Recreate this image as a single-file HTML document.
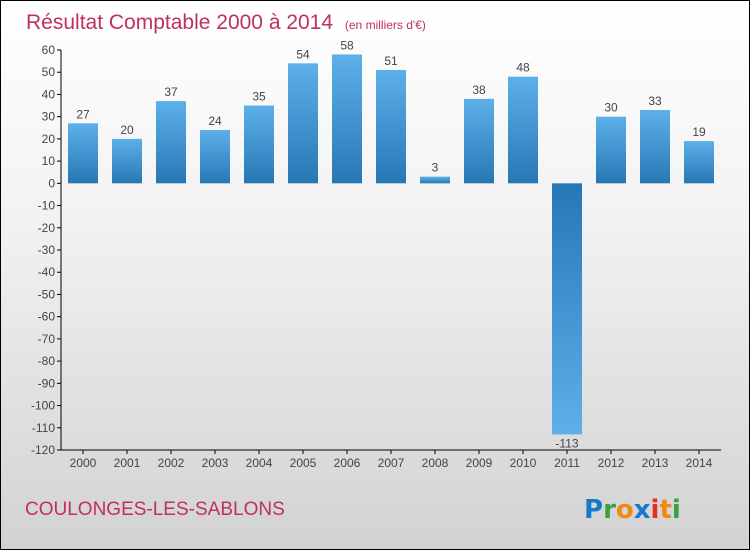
<!DOCTYPE html>
<html><head><meta charset="utf-8"><style>
html,body{margin:0;padding:0}
body{width:750px;height:550px;overflow:hidden;font-family:"Liberation Sans",sans-serif}
#wrap{position:relative;width:748px;height:548px;border:1px solid #000;background:linear-gradient(#ffffff,#f2f2f2 40%,#d2d2d2)}
</style></head><body>
<div id="wrap">
<svg id="chart" width="748" height="548">
<defs>
<linearGradient id="gp" x1="0" y1="0" x2="0" y2="1"><stop offset="0" stop-color="#5db0ea"/><stop offset="1" stop-color="#2877b5"/></linearGradient>
<linearGradient id="gn" x1="0" y1="0" x2="0" y2="1"><stop offset="0" stop-color="#2877b5"/><stop offset="1" stop-color="#5db0ea"/></linearGradient>
</defs>
<text x="25" y="28" font-size="21" fill="#c0305f">Résultat Comptable 2000 à 2014 <tspan font-size="12" dx="6">(en milliers d'€)</tspan></text>
<text x="24" y="514" font-size="19" fill="#c0305f">COULONGES-LES-SABLONS</text>
<g font-size="26" font-weight="bold" font-family="DejaVu Sans, sans-serif">
<text x="583" y="517" fill="#1a78c8">P<tspan fill="#3aa040">r</tspan><tspan fill="#f08a10">o</tspan><tspan fill="#1a78c8">x</tspan><tspan fill="#e03020">i</tspan><tspan fill="#f08a10">t</tspan><tspan fill="#3aa040">i</tspan></text>
</g>
<g id="axes"></g><g id="bars"></g>
</svg>
</div>
<script>
const years=["2000","2001","2002","2003","2004","2005","2006","2007","2008","2009","2010","2011","2012","2013","2014"];
const values=[27,20,37,24,35,54,58,51,3,38,48,-113,30,33,19];
const yTicks=[60,50,40,30,20,10,0,-10,-20,-30,-40,-50,-60,-70,-80,-90,-100,-110,-120];
const NS="http://www.w3.org/2000/svg";
const pL=60,pR=720,pT=49,pB=449,ymin=-120,ymax=60;
const yS=v=>pT+(ymax-v)*(pB-pT)/(ymax-ymin);
const step=(pR-pL)/years.length;
const xS=i=>pL+step*(i+0.5);
function mk(t,a,p){const e=document.createElementNS(NS,t);for(const k in a)e.setAttribute(k,a[k]);p.appendChild(e);return e;}
const ax=document.getElementById('axes'),bs=document.getElementById('bars');
const yl=mk('line',{x1:pL,y1:pT,x2:pL,y2:pB,stroke:'#000'},ax);


const xl=mk('line',{x1:pL,y1:pB,x2:pR,y2:pB,stroke:'#000'},ax);


yTicks.forEach(v=>{
 mk('line',{x1:pL-4,y1:yS(v),x2:pL,y2:yS(v),stroke:'#000'},ax);
 const t=mk('text',{x:pL-6,y:yS(v)+4,'text-anchor':'end','font-size':12,fill:'#444'},ax);
 t.textContent=v;
 
 
});
years.forEach((yr,i)=>{
 mk('line',{x1:xS(i),y1:pB,x2:xS(i),y2:pB+4,stroke:'#000'},ax);
 const t=mk('text',{x:xS(i),y:pB+17,'text-anchor':'middle','font-size':12,fill:'#444'},ax);
 t.textContent=yr;
 
 
 const v=values[i],y0=yS(0),yv=yS(v);
 const r=mk('rect',{x:xS(i)-15,y:Math.min(y0,yv),width:30,height:Math.abs(y0-yv),fill:v>=0?'url(#gp)':'url(#gn)'},bs);
 
 
 const l=mk('text',{x:xS(i),y:v>=0?yv-5:yv+13,'text-anchor':'middle','font-size':12,fill:'#444'},bs);
 l.textContent=v;
 
 
});
</script>
</body></html>
